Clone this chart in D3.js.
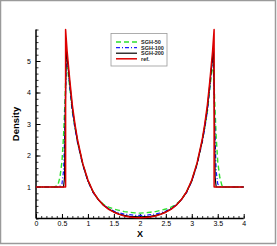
<!DOCTYPE html>
<html>
<head>
<meta charset="utf-8">
<script src="https://cdn.jsdelivr.net/npm/d3@7"></script>
<style>
  body { margin: 0; background: #fff; }
  svg { display: block; font-family: Arial, "Liberation Sans", sans-serif; }
</style>
</head>
<body>
<svg id="chart" width="277" height="246"></svg>
<script>
// exact / reference solution
let refX = [0, 0.57, 0.57, 0.6, 0.65, 0.7, 0.75, 0.8, 0.9, 1.0, 1.1, 1.2, 1.3, 1.4, 1.5, 1.6, 1.7, 1.8, 1.9, 2.0,
            2.1, 2.2, 2.3, 2.4, 2.5, 2.6, 2.7, 2.8, 2.9, 3.0, 3.1, 3.2, 3.25, 3.3, 3.35, 3.4, 3.43, 3.43, 4];
let refY = [1, 1, 6.0, 5.3, 4.4, 3.6, 3.0, 2.5, 1.75, 1.22, 0.85, 0.6, 0.42, 0.29, 0.2, 0.13, 0.08, 0.05, 0.03, 0.02,
            0.03, 0.05, 0.08, 0.13, 0.2, 0.29, 0.42, 0.6, 0.85, 1.22, 1.75, 2.5, 3.0, 3.6, 4.4, 5.3, 6.0, 1, 1];

let sgh200X = [0, 0.53, 0.55, 0.565, 0.58, 0.6, 0.65, 0.7, 0.75, 0.8, 0.9, 1.0, 1.1, 1.2, 1.3, 1.4, 1.5, 1.6, 1.7, 1.8, 1.9, 2.0,
               2.1, 2.2, 2.3, 2.4, 2.5, 2.6, 2.7, 2.8, 2.9, 3.0, 3.1, 3.2, 3.25, 3.3, 3.35, 3.4, 3.42, 3.435, 3.45, 3.47, 4];
let sgh200Y = [1, 1, 1.3, 3.5, 5.4, 5.1, 4.3, 3.5, 2.95, 2.45, 1.72, 1.2, 0.84, 0.6, 0.42, 0.3, 0.21, 0.14, 0.1, 0.07, 0.06, 0.05,
               0.06, 0.07, 0.1, 0.14, 0.21, 0.3, 0.42, 0.6, 0.84, 1.2, 1.72, 2.45, 2.95, 3.5, 4.3, 5.1, 5.4, 3.5, 1.3, 1, 1];

let sgh100X = [0, 0.45, 0.5, 0.53, 0.55, 0.57, 0.59, 0.62, 0.65, 0.7, 0.75, 0.8, 0.9, 1.0, 1.1, 1.2, 1.3, 1.4, 1.5, 1.6, 1.7, 1.8, 1.9, 2.0,
               2.1, 2.2, 2.3, 2.4, 2.5, 2.6, 2.7, 2.8, 2.9, 3.0, 3.1, 3.2, 3.25, 3.3, 3.35, 3.38, 3.41, 3.43, 3.45, 3.47, 3.5, 3.55, 4];
let sgh100Y = [1, 1, 1.1, 1.5, 2.5, 4.0, 5.2, 4.8, 4.2, 3.4, 2.85, 2.4, 1.7, 1.18, 0.82, 0.6, 0.43, 0.32, 0.24, 0.18, 0.14, 0.12, 0.1, 0.1,
               0.1, 0.12, 0.14, 0.18, 0.24, 0.32, 0.43, 0.6, 0.82, 1.18, 1.7, 2.4, 2.85, 3.4, 4.2, 4.8, 5.2, 4.0, 2.5, 1.5, 1.1, 1, 1];

let sgh50X = [0, 0.35, 0.42, 0.46, 0.5, 0.53, 0.56, 0.58, 0.62, 0.66, 0.7, 0.76, 0.82, 0.9, 1.0, 1.1, 1.2, 1.3, 1.4, 1.5, 1.6, 1.7, 1.8, 1.9, 2.0,
              2.1, 2.2, 2.3, 2.4, 2.5, 2.6, 2.7, 2.8, 2.9, 3.0, 3.1, 3.18, 3.24, 3.3, 3.34, 3.38, 3.42, 3.44, 3.47, 3.5, 3.54, 3.58, 3.65, 4];
let sgh50Y = [1, 1, 1.05, 1.3, 1.8, 2.6, 3.8, 4.9, 4.6, 4.0, 3.4, 2.8, 2.3, 1.75, 1.2, 0.85, 0.6, 0.45, 0.36, 0.3, 0.26, 0.22, 0.2, 0.18, 0.17,
              0.18, 0.2, 0.22, 0.26, 0.3, 0.36, 0.45, 0.6, 0.85, 1.2, 1.75, 2.3, 2.8, 3.4, 4.0, 4.6, 4.9, 3.8, 2.6, 1.8, 1.3, 1.05, 1, 1];

let legendNames = ['SGH-50', 'SGH-100', 'SGH-200', 'ref.'];
let xTicks = [0, 0.5, 1, 1.5, 2, 2.5, 3, 3.5, 4];
let yTicks = [1, 2, 3, 4, 5];

let svg = d3.select('#chart');

// outer frame
svg.append('rect')
    .attr('x', 0.5).attr('y', 0.5)
    .attr('width', 275).attr('height', 243)
    .attr('fill', 'none')
    .attr('stroke', '#9a9a9a')
    .attr('stroke-width', 1.5);

let xScale = d3.scaleLinear().domain([0, 4]).range([36, 243.7]);
let yScale = d3.scaleLinear().domain([0, 6]).range([218.5, 29.5]);

// minor ticks first
let xMinor = d3.range(0, 41).map(d => d / 10);
let yMinor = d3.range(0, 31).map(d => d / 5);

svg.append('g')
    .attr('transform', 'translate(0,' + yScale(0) + ')')
    .call(d3.axisBottom(xScale).tickValues(xMinor).tickSize(-2.5).tickFormat(''))
    .call(g => g.select('.domain').remove())
    .selectAll('line').attr('stroke-width', 0.8);

svg.append('g')
    .attr('transform', 'translate(' + xScale(0) + ',0)')
    .call(d3.axisLeft(yScale).tickValues(yMinor).tickSize(-2.5).tickFormat(''))
    .call(g => g.select('.domain').remove())
    .selectAll('line').attr('stroke-width', 0.8);

// major ticks with labels
let xAxis = svg.append('g')
    .attr('transform', 'translate(0,' + yScale(0) + ')')
    .call(d3.axisBottom(xScale).tickValues(xTicks).tickSize(-4.5).tickPadding(3).tickFormat(d3.format('')));
xAxis.select('.domain').remove();
xAxis.selectAll('line').attr('stroke-width', 1);
xAxis.selectAll('text').attr('font-size', 7).attr('fill', '#000').attr('dy', '0.71em');

let yAxis = svg.append('g')
    .attr('transform', 'translate(' + xScale(0) + ',0)')
    .call(d3.axisLeft(yScale).tickValues(yTicks).tickSize(-4.5).tickPadding(5).tickFormat(d3.format('')));
yAxis.select('.domain').remove();
yAxis.selectAll('line').attr('stroke-width', 1);
yAxis.selectAll('text').attr('font-size', 7).attr('fill', '#000');

// axis lines
svg.append('line')
    .attr('x1', xScale(0)).attr('x2', xScale(4))
    .attr('y1', yScale(0)).attr('y2', yScale(0))
    .attr('stroke', '#000').attr('stroke-width', 1.5);
svg.append('line')
    .attr('x1', xScale(0)).attr('x2', xScale(0))
    .attr('y1', yScale(0)).attr('y2', yScale(6))
    .attr('stroke', '#000').attr('stroke-width', 1.5);

// axis titles
svg.append('text')
    .attr('x', 140).attr('y', 237)
    .attr('text-anchor', 'middle')
    .attr('font-size', 9).attr('font-weight', 'bold')
    .text('X');
svg.append('text')
    .attr('transform', 'translate(19,124) rotate(-90)')
    .attr('text-anchor', 'middle')
    .attr('font-size', 9.5).attr('font-weight', 'bold')
    .text('Density');

// curves
let series = [
    { xs: sgh50X, ys: sgh50Y, color: '#2fe02f', dash: '5,3', width: 1.4 },
    { xs: sgh100X, ys: sgh100Y, color: '#1a1aff', dash: '4,2,1,2', width: 1.2 },
    { xs: sgh200X, ys: sgh200Y, color: '#000', dash: null, width: 1.2 },
    { xs: refX, ys: refY, color: '#dd0000', dash: null, width: 1.5 }
];

let line = d3.line()
    .x(d => xScale(d[0]))
    .y(d => yScale(d[1]));

series.forEach(s => {
    let pts = s.xs.map((x, i) => [x, s.ys[i]]);
    svg.append('path')
        .attr('d', line(pts))
        .attr('fill', 'none')
        .attr('stroke', s.color)
        .attr('stroke-width', s.width)
        .attr('stroke-dasharray', s.dash)
        .attr('stroke-linejoin', 'round');
});

// legend
let legend = svg.append('g');
legend.append('rect')
    .attr('x', 111).attr('y', 33.5)
    .attr('width', 56).attr('height', 32.5)
    .attr('fill', '#fff')
    .attr('stroke', '#999')
    .attr('stroke-width', 0.8);

legendNames.forEach((name, i) => {
    let yy = 42 + i * 5.6;
    legend.append('line')
        .attr('x1', 116).attr('x2', 137)
        .attr('y1', yy).attr('y2', yy)
        .attr('stroke', series[i].color)
        .attr('stroke-width', series[i].width)
        .attr('stroke-dasharray', series[i].dash);
    legend.append('text')
        .attr('x', 141).attr('y', yy + 2)
        .attr('font-size', 5.5)
        .attr('font-weight', 'bold')
        .attr('fill', '#222')
        .text(name);
});
</script>
</body>
</html>
